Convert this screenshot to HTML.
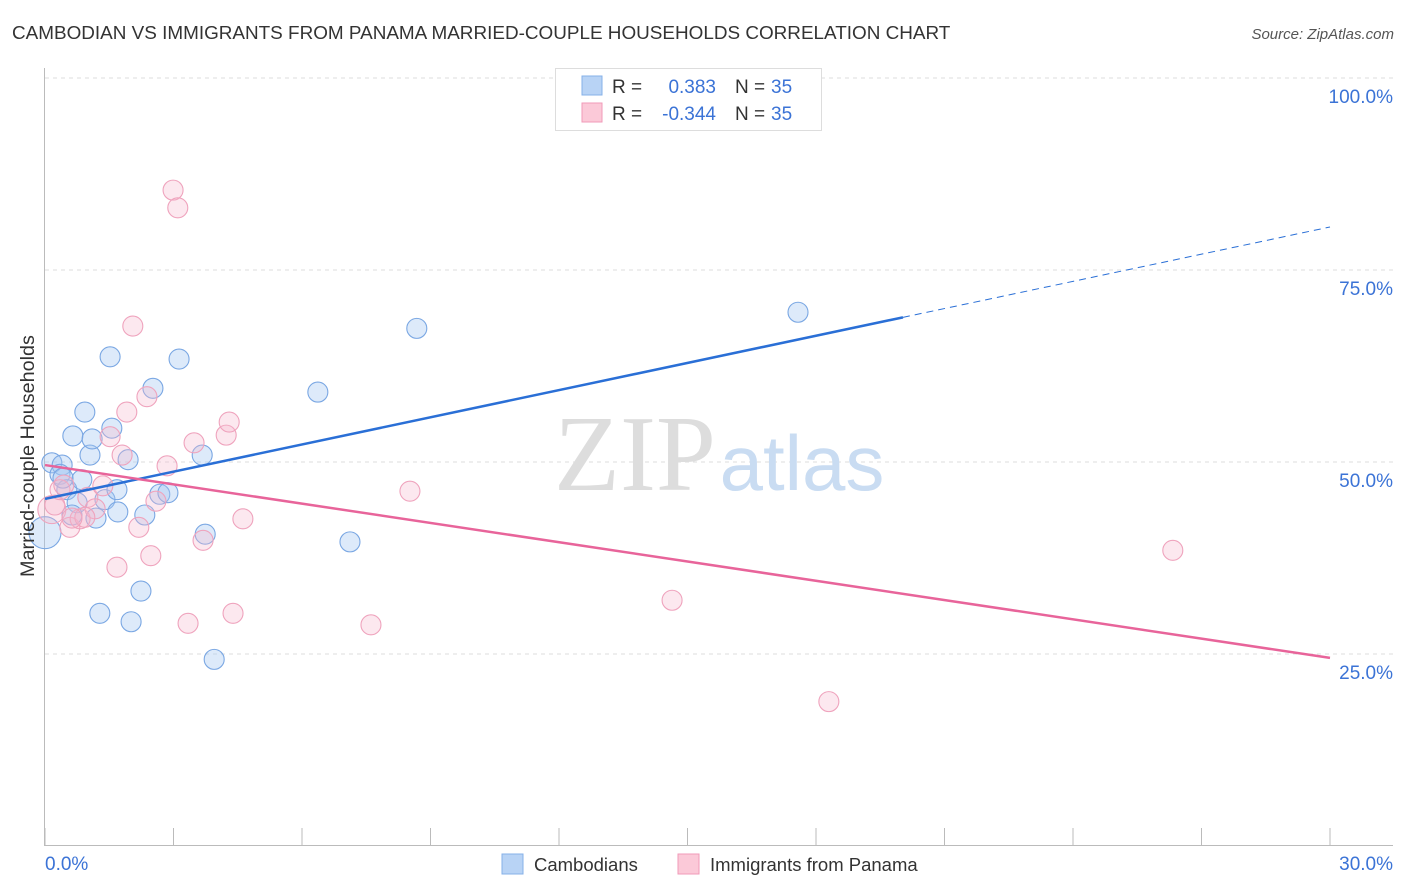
<!DOCTYPE html>
<html><head><meta charset="utf-8"><style>
body{margin:0;background:#fff;font-family:"Liberation Sans",sans-serif;}
svg{display:block}
</style></head><body>
<svg id="chart" width="1406" height="892">
<text x="12" y="39" font-size="18.9" fill="#333">CAMBODIAN VS IMMIGRANTS FROM PANAMA MARRIED-COUPLE HOUSEHOLDS CORRELATION CHART</text>
<text x="1394" y="39" font-size="15" fill="#555" font-style="italic" text-anchor="end">Source: ZipAtlas.com</text>
<g id="grid"></g>
<g>
<text x="635" y="490" font-size="108" font-family="Liberation Serif,serif" fill="#ddd" text-anchor="middle">ZIP</text>
<text x="802" y="490" font-size="78" fill="#c9dcf2" text-anchor="middle">atlas</text>
</g>
<g id="axes"></g>
<g id="pts"></g>
<g id="lines"></g>
<text transform="translate(34,456) rotate(-90)" font-size="19.8" fill="#333" text-anchor="middle">Married-couple Households</text>
<g>
<rect x="555.5" y="68.5" width="266" height="62" fill="#fff" stroke="#ddd"/>
<rect x="582" y="76" width="20" height="19" fill="#b8d3f5" stroke="#86b0e8"/>
<rect x="582" y="103" width="20" height="19" fill="#fbc9d8" stroke="#f09ab8"/>
<text x="612" y="93" font-size="19" fill="#333">R =</text>
<text x="716" y="93" font-size="19" fill="#3b73d6" text-anchor="end">0.383</text>
<text x="735" y="93" font-size="19" fill="#333">N =</text>
<text x="771" y="93" font-size="19" fill="#3b73d6">35</text>
<text x="612" y="120" font-size="19" fill="#333">R =</text>
<text x="716" y="120" font-size="19" fill="#3b73d6" text-anchor="end">-0.344</text>
<text x="735" y="120" font-size="19" fill="#333">N =</text>
<text x="771" y="120" font-size="19" fill="#3b73d6">35</text>
</g>
<g>
<rect x="502" y="854" width="21" height="20" fill="#b8d3f5" stroke="#86b0e8"/>
<text x="534" y="871" font-size="18.5" fill="#333">Cambodians</text>
<rect x="678" y="854" width="21" height="20" fill="#fbc9d8" stroke="#f09ab8"/>
<text x="710" y="871" font-size="18.5" fill="#333">Immigrants from Panama</text>
</g>
</svg>
<script>
const blueX=[0.0,0.16,0.40,0.35,0.51,0.65,0.93,1.05,1.10,0.75,0.86,1.19,1.28,1.40,1.52,1.56,1.68,1.70,1.94,2.01,2.24,2.33,2.52,2.68,2.87,3.13,3.67,3.74,3.95,6.37,7.12,8.68,17.58,0.63,0.42];
const blueY=[40.8,49.9,49.6,48.4,46.4,53.4,56.5,50.9,53.0,44.7,47.7,42.7,30.3,45.1,63.7,54.4,46.4,43.5,50.3,29.2,33.2,43.1,59.6,45.8,46.0,63.4,50.9,40.6,24.3,59.1,39.6,67.4,69.5,43.1,47.9];
const pinkX=[0.16,0.23,0.35,0.44,0.58,0.82,1.00,1.17,1.35,1.52,1.68,1.80,1.91,2.05,2.19,2.38,2.47,2.59,2.85,2.99,3.10,3.34,3.48,3.69,4.23,4.30,4.39,4.62,7.61,8.52,14.64,18.30,26.33,0.93,0.63];
const pinkY=[43.8,44.4,46.4,47.0,41.5,42.6,45.4,43.9,46.9,53.3,36.3,50.9,56.5,67.7,41.5,58.5,37.8,44.9,49.5,85.4,83.1,29.0,52.5,39.8,53.5,55.2,30.3,42.6,28.8,46.2,32.0,18.8,38.5,42.8,42.7];
const blueTrend=[45.2,1.18];
const pinkTrend=[49.6,-0.837];
const xTicks=[0,3,6,9,12,15,18,21,24,27,30];
const yTicks=[25,50,75,100];
const yTickLabels=["25.0%","50.0%","75.0%","100.0%"];
const NS="http://www.w3.org/2000/svg";
const sx=v=>45+v*1285/30;
const sy=v=>846-v*7.68;
function mk(tag,attrs,parent){const e=document.createElementNS(NS,tag);for(const k in attrs)e.setAttribute(k,attrs[k]);parent.appendChild(e);return e;}
const grid=document.getElementById('grid'),axes=document.getElementById('axes'),pts=document.getElementById('pts'),lines=document.getElementById('lines');
yTicks.forEach((t,i)=>{
 const l=mk('line',{x1:45,x2:1393,y1:sy(t),y2:sy(t),stroke:'#ddd','stroke-dasharray':'4,4'},grid);
 
 
 const tx=mk('text',{x:1393,y:sy(t)+25,'font-size':19,fill:'#3b73d6','text-anchor':'end'},axes);
 tx.textContent=yTickLabels[i];
 
 
});
mk('line',{x1:44.5,x2:44.5,y1:68,y2:846,stroke:'#bbb'},axes);
mk('line',{x1:44,x2:1393,y1:845.5,y2:845.5,stroke:'#bbb'},axes);
xTicks.forEach(t=>{
 const l=mk('line',{x1:sx(t),x2:sx(t),y1:828,y2:846,stroke:'#bbb'},axes);
 
 
});
const x0=mk('text',{x:45,y:870,'font-size':19,fill:'#3b73d6'},axes);x0.textContent='0.0%';


const x1=mk('text',{x:1393,y:870,'font-size':19,fill:'#3b73d6','text-anchor':'end'},axes);x1.textContent='30.0%';


function drawPts(X,Y,fill,stroke,name){
 X.forEach((x,i)=>{
  const r=(i===0)?(name==='blue-point'?16:14):10;
  const c=mk('circle',{cx:sx(x),cy:sy(Y[i]),r:r,fill:fill,stroke:stroke,'stroke-width':1.1},pts);
  
  
 });
}
drawPts(blueX,blueY,'rgba(165,200,242,0.38)','#7aa7e3','blue-point');
drawPts(pinkX,pinkY,'rgba(247,185,205,0.32)','#efa3bd','pink-point');
const bEnd=20.03;
const b1=mk('line',{x1:sx(0),y1:sy(blueTrend[0]),x2:sx(bEnd),y2:sy(blueTrend[0]+blueTrend[1]*bEnd),stroke:'#2a6fd6','stroke-width':2.5},lines);


const b2=mk('line',{x1:sx(bEnd),y1:sy(blueTrend[0]+blueTrend[1]*bEnd),x2:sx(30),y2:sy(blueTrend[0]+blueTrend[1]*30),stroke:'#2a6fd6','stroke-width':1,'stroke-dasharray':'7,5'},lines);


const p1=mk('line',{x1:sx(0),y1:sy(pinkTrend[0]),x2:sx(30),y2:sy(pinkTrend[0]+pinkTrend[1]*30),stroke:'#e8649a','stroke-width':2.5},lines);


</script>
</body></html>
